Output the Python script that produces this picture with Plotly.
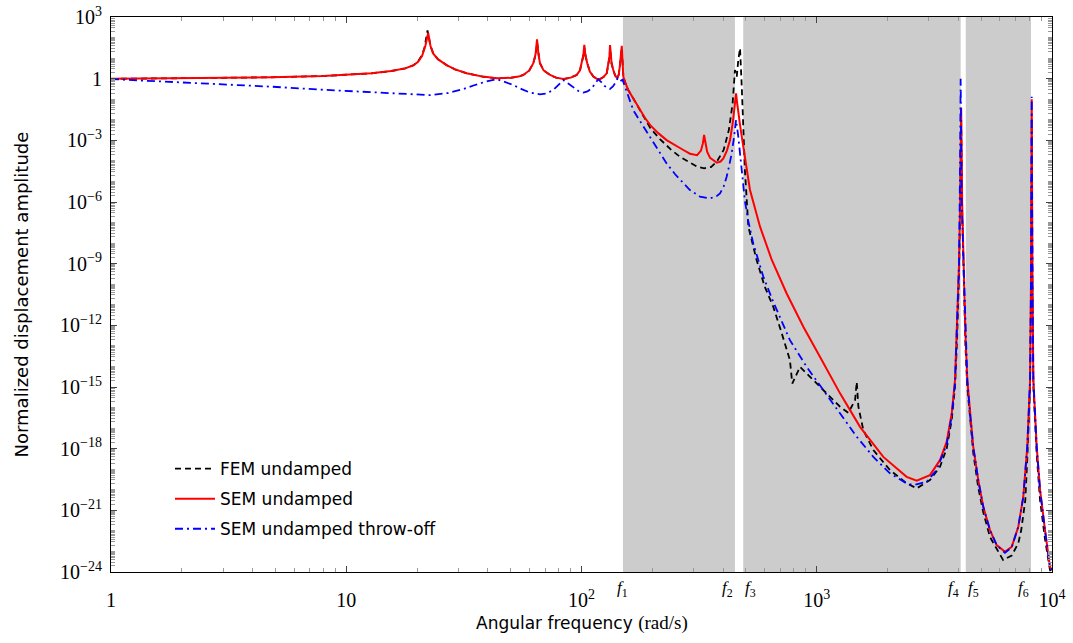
import numpy as np
import plotly.graph_objects as go

# ---------------- data (angular frequency in rad/s, amplitude as log10 exponent) -------------
fem_w = [1, 2, 4.8, 8, 12.8, 15.5, 17.8, 19.3, 20.2, 21.0, 21.5, 22.15, 22.8, 23.4, 24.5, 26.7, 29, 32.5, 38, 43.6,
         50, 54, 56.6, 60, 62.4, 63.8, 64.8, 65.8, 66.6, 69, 73.5, 78, 83.7, 90, 95.4, 98.5, 100.2, 101.8, 102.9, 104,
         105.8, 108.5, 112.3, 116, 119.9, 124, 128, 130.5, 131.6, 132.3, 133.2, 134.2, 136.5, 139, 142, 144, 145.5, 147,
         148.3, 149.3, 150.6, 153, 158, 166, 177, 186, 196, 216, 240, 262, 289, 310, 332, 355, 376, 402, 423, 439, 449,
         457, 464, 472, 480, 487, 495, 512, 555, 601, 653, 710, 769, 787, 849, 966, 1102, 1256, 1362, 1455, 1479, 1503,
         1578, 1740, 2047, 2411, 2660, 3028, 3340, 3566, 3747, 3870, 3945, 4026, 4076, 4110, 4150, 4224, 4287, 4365,
         4479, 4627, 4860, 5103, 5450, 5818, 6200, 6740, 7190, 7400, 7700, 7850, 8004, 8070, 8140, 8200, 8260, 8333,
         8610, 8896, 9340, 9800, 10000]
fem_logA = [-0.01, 0.01, 0.066, 0.13, 0.26, 0.37, 0.50, 0.65, 0.85, 1.15, 1.5, 2.35, 1.6, 1.25, 0.95, 0.66, 0.45, 0.26, 0.10, 0.02,
            0.04, 0.10, 0.18, 0.4, 0.75, 1.15, 1.75, 1.15, 0.75, 0.4, 0.18, 0.05, -0.02, 0.05, 0.18, 0.4, 0.75, 1.1, 1.5, 1.1,
            0.75, 0.35, 0.10, 0.0, -0.02, 0.08, 0.26, 0.75, 1.05, 1.5, 1.05, 0.75, 0.42, 0.15, 0.02, 0.2, 0.6, 0.95,
            1.5, 0.9, 0.1, -0.15, -0.55, -0.96, -1.53, -1.95, -2.4, -2.95, -3.45, -3.8, -4.1, -4.28, -4.36, -4.3, -4.04, -3.47, -2.5, -1.2, 0.42,
            0.1, 0.91, 1.48, -0.39, -2.82, -4.45, -7.2, -8.82, -10.12, -11.09, -12.39, -13.69, -14.83, -14.02, -14.66, -15.31, -15.96, -16.26, -15.64, -14.75, -15.96,
            -17.1, -18.07, -19.04, -19.69, -19.93, -19.53, -18.88, -18.0, -16.6, -15.0, -12.8, -9.5, -6.0, -2.0, -6.5, -10.5, -13.0, -15.0,
            -16.6, -18.2, -19.9, -21.1, -22.3, -22.9, -23.42, -23.2, -22.6, -21.96, -20.5, -18.5, -16.0, -15.0, -10.5, -2.0, -10.5, -15.0,
            -18.3, -20.5, -22.4, -23.9, -24.1]

sem_w = [1, 2, 4.8, 8, 12.8, 15.5, 17.8, 19.3, 20.2, 21.0, 21.7, 22.3, 22.8, 23.4, 24.5, 26.7, 29, 32.5, 38, 43.6,
         50, 54, 56.6, 60, 62.4, 63.8, 64.7, 65.6, 66.6, 69, 73.5, 78, 83.7, 90, 95.4, 98.5, 100.2, 101.8, 102.8, 103.9,
         105.8, 108.5, 112.3, 116, 119.9, 124, 128, 130.5, 131.5, 132.2, 133.1, 134.2, 136.5, 139, 142, 144, 145.5, 147,
         148.3, 149.3, 150.6, 153, 158, 166, 177, 186, 196, 212, 230, 250, 271, 289, 310, 322, 328, 332, 336, 342, 352,
         376, 390, 401, 415, 428, 440, 448, 454, 459, 464, 472, 480, 492, 504, 520, 574, 644, 745, 877, 1050, 1256, 1527,
         1918, 2411, 2660, 3028, 3340, 3566, 3747, 3870, 3945, 4026, 4076, 4110, 4150, 4224, 4287, 4365, 4479, 4627,
         4860, 5103, 5450, 5818, 6310, 6740, 7190, 7550, 7850, 8004, 8070, 8140, 8200, 8260, 8333, 8610, 8896, 9340,
         9800, 10000]
sem_logA = [-0.01, 0.01, 0.066, 0.13, 0.26, 0.37, 0.50, 0.65, 0.82, 1.1, 1.6, 2.22, 1.6, 1.23, 0.95, 0.66, 0.45, 0.26, 0.10, 0.02,
            0.04, 0.10, 0.18, 0.4, 0.75, 1.2, 1.91, 1.2, 0.75, 0.4, 0.18, 0.05, -0.02, 0.05, 0.18, 0.4, 0.75, 1.15, 1.64, 1.15,
            0.75, 0.35, 0.10, 0.0, -0.02, 0.08, 0.26, 0.75, 1.1, 1.64, 1.1, 0.75, 0.42, 0.15, 0.02, 0.2, 0.6, 1.0,
            1.60, 0.9, 0.1, -0.15, -0.55, -0.96, -1.53, -1.9, -2.26, -2.65, -2.99, -3.25, -3.47, -3.65, -3.72, -3.5, -3.15, -2.74, -3.15, -3.55, -3.85,
            -4.09, -4.03, -3.88, -3.5, -2.99, -2.1, -1.4, -0.71, -1.2, -1.69, -2.25, -2.82, -3.65, -4.35, -5.4, -7.2, -8.82, -10.45, -12.07, -13.69, -15.31, -16.94,
            -18.40, -19.37, -19.56, -19.29, -18.56, -17.67, -16.29, -14.66, -12.3, -9.0, -5.5, -1.4, -6.0, -10.0, -12.5, -14.66, -16.29, -17.91,
            -19.53, -20.83, -21.96, -22.69, -23.02, -22.78, -21.8, -20.34, -17.91, -15.48, -14.66, -10.0, -1.0, -10.0, -14.66, -17.91, -20.0, -21.96,
            -23.75, -23.9]

thr_w = [1, 2.4, 4.8, 8, 12.8, 17, 22.7, 27, 31.5, 35, 39, 43.6, 47, 51.3, 56, 60.4, 66.6, 71, 75.9, 80.5,
         83.7, 87.5, 92.3, 97, 101.8, 106, 110.5, 114.5, 117.8, 121, 125, 132.2, 136, 138.8, 142.5, 146, 149.5, 152,
         158.2, 166, 177, 195.5, 212, 230, 250, 271, 289, 319, 352, 375, 388, 402, 414, 425, 435, 445, 454, 464, 480,
         495, 512, 537, 593, 653, 769, 906, 1066, 1256, 1479, 1740, 2047, 2411, 2574, 2933, 3233, 3566, 3747, 3870,
         3945, 4026, 4060, 4090, 4130, 4224, 4287, 4365, 4479, 4627, 4860, 5103, 5450, 5818, 6310, 6740, 7190, 7550,
         7850, 8004, 8070, 8140, 8200, 8260, 8333, 8610, 8896, 9340, 9800, 10000]
thr_logA = [-0.02, -0.21, -0.39, -0.54, -0.66, -0.74, -0.80, -0.70, -0.50, -0.32, -0.15, -0.02, -0.15, -0.31, -0.52, -0.68, -0.76, -0.72, -0.55, -0.28,
            -0.07, -0.22, -0.42, -0.6, -0.68, -0.62, -0.47, -0.25, -0.03, -0.15, -0.35, -0.50, -0.38, -0.23, 0.02, -0.12, -0.05, -0.3,
            -0.88, -1.53, -2.05, -2.82, -3.5, -4.12, -4.65, -5.09, -5.42, -5.74, -5.82, -5.72, -5.58, -5.25, -4.77, -4.2, -3.63, -2.85, -2.01, -2.82, -4.35,
            -5.95, -6.95, -8.01, -9.64, -10.85, -12.72, -14.02, -15.15, -16.29, -17.42, -18.4, -19.2, -19.69, -19.77, -19.61, -19.04, -17.8, -16.4, -14.8,
            -12.3, -9.0, -5.0, 0.0, -6.0, -10.0, -12.5, -14.66, -16.29, -17.91, -19.53, -20.83, -21.96, -22.69, -23.07, -22.8, -21.8, -20.34,
            -17.91, -15.48, -14.66, -10.0, -0.88, -10.0, -14.66, -17.91, -20.0, -21.96, -23.75, -23.9]

assert len(fem_w) == len(fem_logA), (len(fem_w), len(fem_logA))
assert len(sem_w) == len(sem_logA), (len(sem_w), len(sem_logA))
assert len(thr_w) == len(thr_logA), (len(thr_w), len(thr_logA))

band_edges = [150, 449, 487, 4090, 4300, 8140]
band_labels = ["<i>f</i><sub>1</sub>", "<i>f</i><sub>2</sub>", "<i>f</i><sub>3</sub>",
               "<i>f</i><sub>4</sub>", "<i>f</i><sub>5</sub>", "<i>f</i><sub>6</sub>"]
band_label_anchor = ["center", "right", "left", "right", "left", "right"]

x_tickvals = [1, 10, 100, 1000, 10000]
x_ticktext = ["1", "10", "10<sup>2</sup>", "10<sup>3</sup>", "10<sup>4</sup>"]
y_tick_exp = [3, 0, -3, -6, -9, -12, -15, -18, -21, -24]
y_ticktext = ["10<sup>3</sup>", "1", "10<sup>\u22123</sup>", "10<sup>\u22126</sup>", "10<sup>\u22129</sup>",
              "10<sup>\u221212</sup>", "10<sup>\u221215</sup>", "10<sup>\u221218</sup>",
              "10<sup>\u221221</sup>", "10<sup>\u221224</sup>"]

series_names = ["FEM undamped", "SEM undamped", "SEM undamped throw-off"]

# ---------------- figure ----------------
fig = go.Figure()
fig.add_trace(go.Scatter(x=fem_w, y=np.power(10.0, fem_logA), mode="lines", name=series_names[0],
                         legendgroup="a", line=dict(color="black", width=1.8, dash="6px,4px")))
fig.add_trace(go.Scatter(x=sem_w, y=np.power(10.0, sem_logA), mode="lines", name=series_names[1],
                         legendgroup="b", line=dict(color="#ff0000", width=2)))
fig.add_trace(go.Scatter(x=thr_w, y=np.power(10.0, thr_logA), mode="lines", name=series_names[2],
                         legendgroup="c", line=dict(color="#0000ff", width=1.8, dash="8px,4px,2px,4px")))

# shaded bands
for i in range(0, len(band_edges), 2):
    fig.add_shape(type="rect", xref="x", yref="paper", x0=band_edges[i], x1=band_edges[i + 1],
                  y0=0, y1=1, fillcolor="#cccccc", line=dict(width=0), layer="below")

for f, lab, anc in zip(band_edges, band_labels, band_label_anchor):
    fig.add_annotation(x=np.log10(f), y=-0.03, xref="x", yref="paper", text=lab, showarrow=False,
                       xanchor=anc, yanchor="middle",
                       font=dict(family="Liberation Serif", size=17, color="black"))

axis_common = dict(type="log", showline=True, linecolor="black", linewidth=1, mirror="allticks",
                   ticks="inside", ticklen=6, tickcolor="#444", tickwidth=1, showgrid=False,
                   zeroline=False, automargin=False, ticklabeloverflow="allow",
                   tickfont=dict(family="Liberation Serif", size=20, color="black"))

fig.update_xaxes(range=[0, 4], tickmode="array", tickvals=x_tickvals, ticktext=x_ticktext,
                 ticklabelstandoff=10,
                 minor=dict(dtick="D1", ticks="inside", ticklen=4, tickcolor="#999", tickwidth=1),
                 **axis_common)
fig.update_yaxes(range=[-24, 3], tickmode="array", tickvals=[10.0 ** e for e in y_tick_exp],
                 ticktext=y_ticktext, ticklabelstandoff=4,
                 minor=dict(dtick="D1", ticks="inside", ticklen=4, tickcolor="#999", tickwidth=1),
                 **axis_common)

fig.add_annotation(xref="paper", yref="paper", x=0.5, y=-0.0919, xanchor="center", yanchor="middle",
                   text='Angular frequency <span style="font-family:Liberation Serif;font-size:19px">(rad/s)</span>',
                   showarrow=False, font=dict(family="DejaVu Sans", size=17, color="black"))
fig.add_annotation(xref="paper", yref="paper", x=-0.0946, y=0.5, xanchor="center", yanchor="middle",
                   text="Normalized displacement amplitude", textangle=-90,
                   showarrow=False, font=dict(family="DejaVu Sans", size=18, color="black"))

fig.update_layout(width=1073, height=643, margin=dict(l=111, r=21, t=17, b=71),
                  paper_bgcolor="white", plot_bgcolor="white",
                  legend=dict(x=0.0627, y=0.218, xanchor="left", yanchor="top", bgcolor="rgba(0,0,0,0)",
                              font=dict(family="DejaVu Sans", size=17, color="black"),
                              tracegroupgap=5, itemwidth=40),
                  showlegend=True)

# remove the default 8px page margin so the figure fills the window exactly
fig.write_html("out.html", config={"displayModeBar": False},
               post_script="document.body.style.margin='0px';")
